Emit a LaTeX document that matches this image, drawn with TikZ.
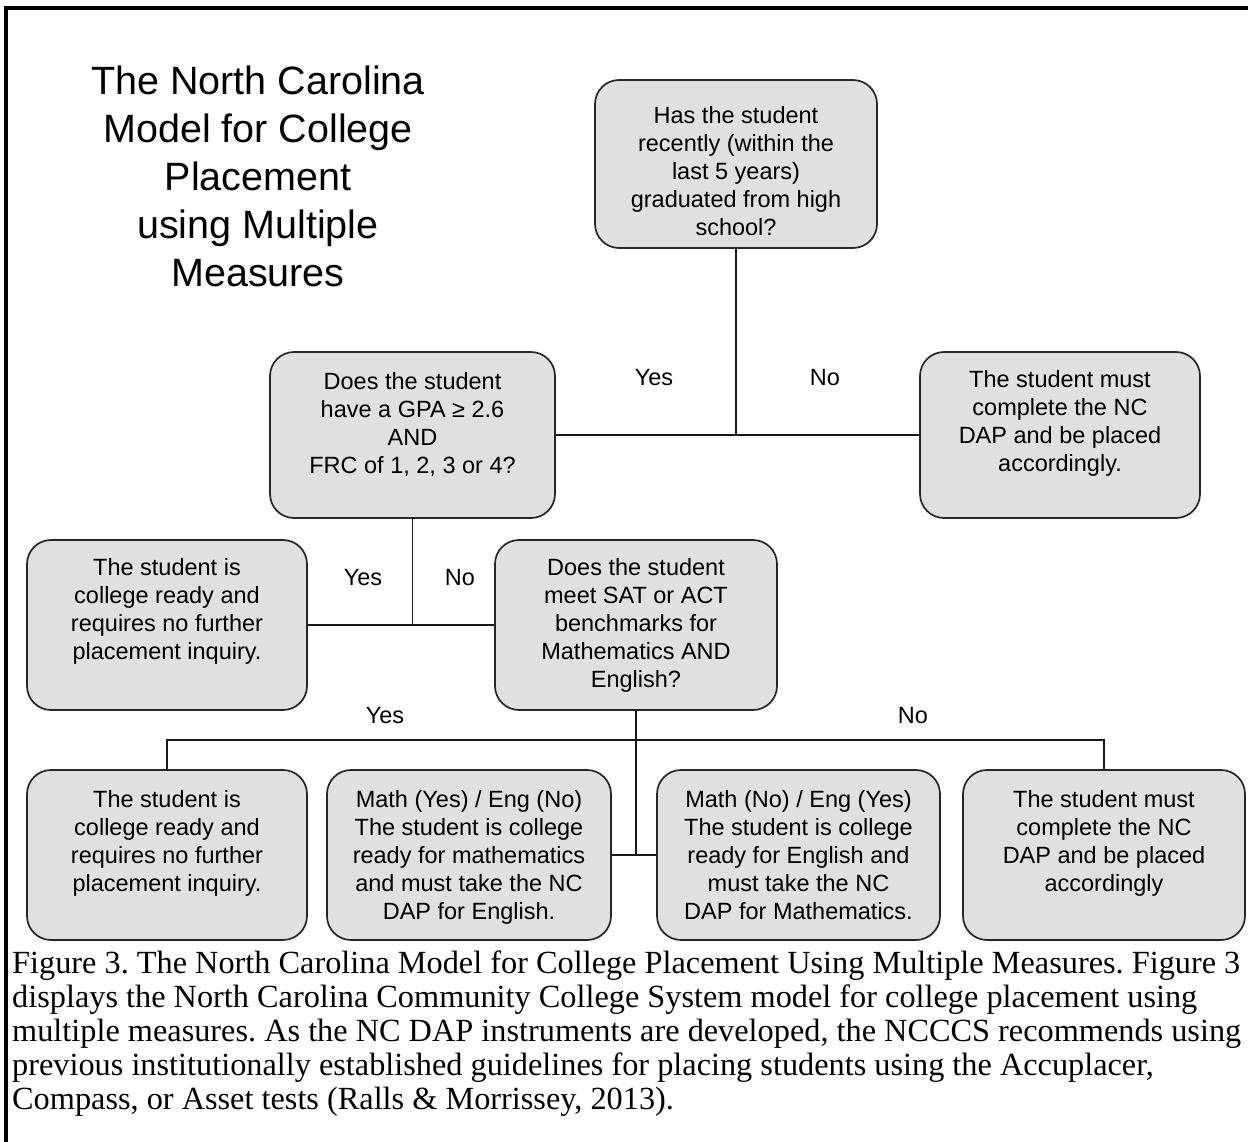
\documentclass[tikz,border=0pt]{standalone}
\usepackage{fontspec}
\setmainfont{Liberation Sans}
\newfontfamily\capfont{Liberation Serif}
\newcommand{\boxtxt}[4]{\parbox[c][#1pt][t]{#2pt}{\centering\vspace*{\dimexpr#3pt-10.6pt\relax}\strut#4}}
\begin{document}
\frenchspacing
\begin{tikzpicture}[x=1pt,y=-1pt,
  box/.style={draw=black!85, line width=1.7pt, fill=gray!24, rounded corners=24pt, inner sep=0pt,
    font=\fontsize{23.5}{28}\selectfont},
  conn/.style={draw=black!90, line width=1.8pt},
  lbl/.style={font=\fontsize{23.5}{28}\selectfont, inner sep=0pt},
  ttl/.style={font=\fontsize{39.5}{48}\selectfont, align=center, inner sep=0pt},
  captxt/.style={font=\capfont\fontsize{32.3}{34}\selectfont, inner sep=0pt, anchor=base west},
  frameln/.style={draw=black, line width=3.5pt}]
\useasboundingbox (0,0) rectangle (1248,1142);
% frame
\coordinate (fl) at (6,1142);
\coordinate (ftl) at (6,8);
\coordinate (ftr) at (1248,8);
\draw[frameln] (fl) -- (ftl) -- (ftr);
% title
\node[ttl] (title) at (258,176) {The North Carolina\\Model for College\\Placement\\using Multiple\\Measures};
% boxes
\node[box] (q1) at (736,164) {\boxtxt{168}{282}{35}{Has the student\\recently (within the\\last 5 years)\\graduated from high\\school?}};
\node[box] (q2) at (412.5,435) {\boxtxt{166}{285}{28}{Does the student\\have a GPA ≥ 2.6\\AND\\FRC of 1, 2, 3 or 4?}};
\node[box] (r1) at (1060,435) {\boxtxt{166}{280}{26}{The student must\\complete the NC\\DAP and be placed\\accordingly.}};
\node[box] (l1) at (167,625) {\boxtxt{170}{280}{26}{The student is\\college ready and\\requires no further\\placement inquiry.}};
\node[box] (q3) at (636,625) {\boxtxt{170}{282}{26}{Does the student\\meet SAT or ACT\\benchmarks for\\Mathematics AND\\English?}};
\node[box] (b1) at (167,855) {\boxtxt{170}{280}{28}{The student is\\college ready and\\requires no further\\placement inquiry.}};
\node[box] (b2) at (469,855) {\boxtxt{170}{284}{28}{Math (Yes) / Eng (No)\\The student is college\\ready for mathematics\\and must take the NC\\DAP for English.}};
\node[box] (b3) at (798.5,855) {\boxtxt{170}{283}{28}{Math (No) / Eng (Yes)\\The student is college\\ready for English and\\must take the NC\\DAP for Mathematics.}};
\node[box] (b4) at (1104,855) {\boxtxt{170}{282}{28}{The student must\\complete the NC\\DAP and be placed\\accordingly}};
% connectors
\draw[conn] (q1.south) -- (q1.south |- q2.east);
\draw[conn] (q2.east) -- (r1.west);
\draw[conn] (q2.south) -- (q2.south |- l1.east);
\draw[conn] (l1.east) -- (q3.west);
\coordinate (t) at (636,740);
\draw[conn] (q3.south) -- (q3.south |- b2.east);
\draw[conn] (b2.east) -- (b3.west);
\draw[conn] (b1.north) -- (b1.north |- t) -| (b4.north);
% labels
\node[lbl] (y1) at (654,378) {Yes};
\node[lbl] (n1) at (825,378) {No};
\node[lbl] (y2) at (363,578) {Yes};
\node[lbl] (n2) at (460,578) {No};
\node[lbl] (y3) at (385,716) {Yes};
\node[lbl] (n3) at (913,716) {No};
% caption
\node[captxt] (c1) at (12,973) {Figure 3. The North Carolina Model for College Placement Using Multiple Measures. Figure 3};
\node[captxt] (c2) at (12,1007) {displays the North Carolina Community College System model for college placement using};
\node[captxt] (c3) at (12,1041) {multiple measures. As the NC DAP instruments are developed, the NCCCS recommends using};
\node[captxt] (c4) at (12,1075) {previous institutionally established guidelines for placing students using the Accuplacer,};
\node[captxt] (c5) at (12,1109) {Compass, or Asset tests (Ralls \& Morrissey, 2013).};
\end{tikzpicture}
\end{document}
